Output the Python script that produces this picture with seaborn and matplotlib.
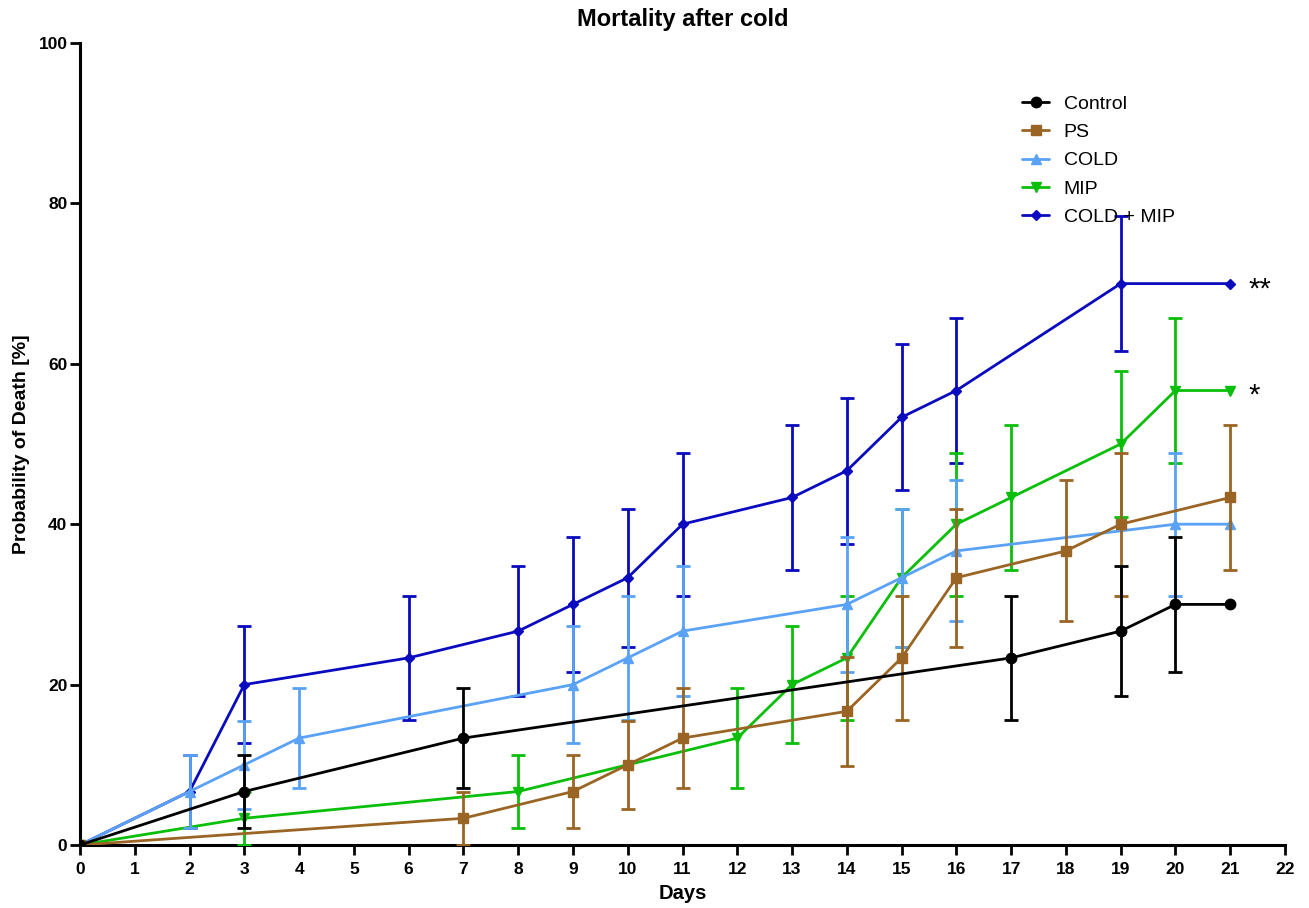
import numpy as np
import pandas as pd
import matplotlib
matplotlib.use("Agg")
import matplotlib.pyplot as plt
import seaborn as sns

# ---- data ----
series_names = ["Control", "PS", "COLD", "MIP", "COLD + MIP"]

control_days = [0, 3, 7, 17, 19, 20, 21]
control_vals = [0, 6.67, 13.33, 23.33, 26.67, 30, 30]
control_err = [0, 4.55, 6.2, 7.72, 8.07, 8.37, 0]

ps_days = [0, 7, 9, 10, 11, 14, 15, 16, 18, 19, 21]
ps_vals = [0, 3.33, 6.67, 10, 13.33, 16.67, 23.33, 33.33, 36.67, 40, 43.33]
ps_err = [0, 3.28, 4.55, 5.48, 6.2, 6.8, 7.72, 8.61, 8.8, 8.94, 9.05]

cold_days = [0, 2, 3, 4, 9, 10, 11, 14, 15, 16, 20, 21]
cold_vals = [0, 6.67, 10, 13.33, 20, 23.33, 26.67, 30, 33.33, 36.67, 40, 40]
cold_err = [0, 4.55, 5.48, 6.2, 7.3, 7.72, 8.07, 8.37, 8.61, 8.8, 8.94, 0]

mip_days = [0, 3, 8, 12, 13, 14, 15, 16, 17, 19, 20, 21]
mip_vals = [0, 3.33, 6.67, 13.33, 20, 23.33, 33.33, 40, 43.33, 50, 56.67, 56.67]
mip_err = [0, 3.28, 4.55, 6.2, 7.3, 7.72, 8.61, 8.94, 9.05, 9.13, 9.05, 0]

coldmip_days = [0, 2, 3, 6, 8, 9, 10, 11, 13, 14, 15, 16, 19, 21]
coldmip_vals = [0, 6.67, 20, 23.33, 26.67, 30, 33.33, 40, 43.33, 46.67, 53.33, 56.67, 70, 70]
coldmip_err = [0, 4.55, 7.3, 7.72, 8.07, 8.37, 8.61, 8.94, 9.05, 9.11, 9.11, 9.05, 8.37, 0]

x_ticks = list(range(0, 23))
y_ticks = [0, 20, 40, 60, 80, 100]

annotations = [("**", 70), ("*", 56.67)]

# ---- style ----
sns.set_style("ticks")
plt.rcParams["font.family"] = ["Liberation Sans", "DejaVu Sans"]
for k in ["text.color", "axes.labelcolor", "xtick.color", "ytick.color", "axes.edgecolor"]:
    plt.rcParams[k] = "black"

colors = {"Control": "#000000", "PS": "#9A6524", "COLD": "#5AA2F5",
          "MIP": "#0ABF0A", "COLD + MIP": "#0A0ABF"}
markers = {"Control": "o", "PS": "s", "COLD": "^", "MIP": "v", "COLD + MIP": "D"}
msizes = {"Control": 7.5, "PS": 7.5, "COLD": 7.5, "MIP": 7.5, "COLD + MIP": 5}

data = {
    "Control": (control_days, control_vals, control_err),
    "PS": (ps_days, ps_vals, ps_err),
    "COLD": (cold_days, cold_vals, cold_err),
    "MIP": (mip_days, mip_vals, mip_err),
    "COLD + MIP": (coldmip_days, coldmip_vals, coldmip_err),
}

fig = plt.figure(figsize=(13.09, 9.08), dpi=100)
ax = fig.add_axes([80 / 1309, 1 - 845 / 908, 1205 / 1309, 802 / 908])

for z, name in enumerate(reversed(series_names)):
    d, v, e = data[name]
    df = pd.DataFrame({"Days": d, "Value": v, "Err": e})
    c = colors[name]
    sns.lineplot(data=df, x="Days", y="Value", ax=ax, color=c, marker=markers[name],
                 markersize=msizes[name], markeredgecolor=c, markerfacecolor=c,
                 markeredgewidth=1, linewidth=2.0, errorbar=None, label=name,
                 zorder=3 + z * 2)
    sub = df[df["Err"] > 0]
    ax.errorbar(sub["Days"], sub["Value"], yerr=sub["Err"], fmt="none", ecolor=c,
                elinewidth=2.0, capsize=5, capthick=2.0, zorder=2 + z * 2)

h, l = ax.get_legend_handles_labels()
hm = dict(zip(l, h))
leg = ax.legend([hm[n] for n in series_names], series_names, loc="upper left",
                bbox_to_anchor=(0.7817, 0.935), frameon=False, fontsize=14,
                handlelength=1.4, handletextpad=0.75, labelspacing=0.55,
                borderpad=0, borderaxespad=0)

ax.text(21.34, 69.2, annotations[0][0], fontsize=21, ha="left", va="center")
ax.text(21.34, 56.1, annotations[1][0], fontsize=21, ha="left", va="center")

ax.set_xlim(0, 22)
ax.set_ylim(0, 100)
ax.set_xticks(x_ticks)
ax.set_yticks(y_ticks)
ax.set_xticklabels([str(t) for t in x_ticks], fontweight="bold", fontsize=12.5)
ax.set_yticklabels([str(t) for t in y_ticks], fontweight="bold", fontsize=12.5)
ax.tick_params(axis="x", direction="out", length=7, width=2, pad=5)
ax.tick_params(axis="y", direction="out", length=7, width=2, pad=2)
for s in ["left", "bottom"]:
    ax.spines[s].set_linewidth(2.2)
for s in ["top", "right"]:
    ax.spines[s].set_visible(False)

ax.set_xlabel("Days", fontweight="bold", fontsize=14.5, labelpad=5)
ax.set_ylabel("Probability of Death [%]", fontweight="bold", fontsize=14, labelpad=6)
ax.set_title("Mortality after cold", fontweight="bold", fontsize=17, pad=12)

fig.savefig("out.png", dpi=100)
